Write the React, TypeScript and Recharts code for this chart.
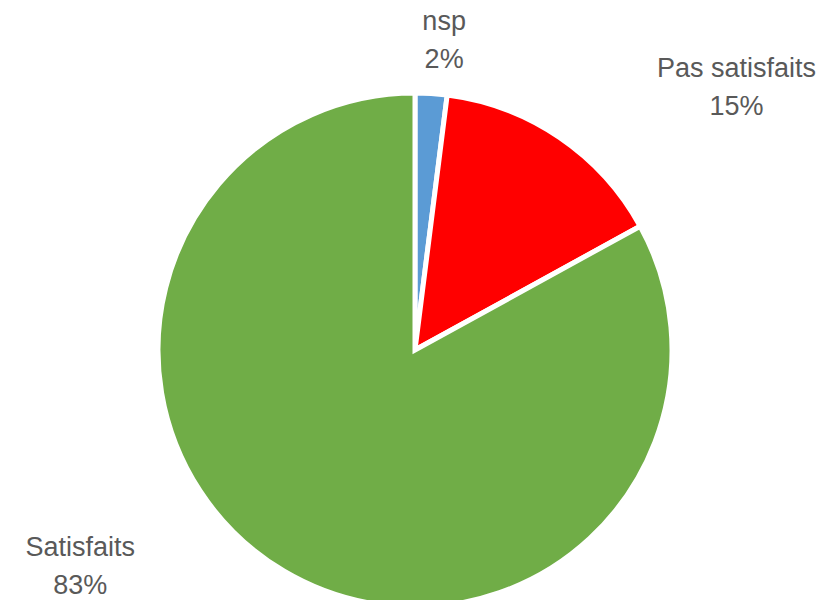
import { PieChart, Pie, Cell } from "recharts";

const categories = ["nsp", "Pas satisfaits", "Satisfaits"];
const shares = [2, 15, 83];
const sliceColors = ["#5B9BD5", "#FF0000", "#70AD47"];

// where each label sits relative to its slice's outer edge (Excel "best fit" look)
const labelNudge: Record<string, { dx: number; dy: number }> = {
  nsp: { dx: 13, dy: -64 },
  "Pas satisfaits": { dx: 177, dy: -60 },
  Satisfaits: { dx: -204, dy: -15 },
};

const data = categories.map((name, i) => ({ name, value: shares[i] }));

const RAD = Math.PI / 180;

function renderLabel(props: any) {
  const { cx, cy, midAngle, outerRadius, payload, percent } = props;
  const name = payload.name as string;
  const nudge = labelNudge[name] ?? { dx: 0, dy: 0 };
  const x = cx + outerRadius * Math.cos(-midAngle * RAD) + nudge.dx;
  const y = cy + outerRadius * Math.sin(-midAngle * RAD) + nudge.dy;
  return (
    <text
      x={x}
      y={y}
      textAnchor="middle"
      fill="#595959"
      fontSize={27}
      fontFamily="'Liberation Sans', Arial, sans-serif"
    >
      <tspan x={x} y={y}>
        {name}
      </tspan>
      <tspan x={x} y={y + 38}>
        {`${Math.round(percent * 100)}%`}
      </tspan>
    </text>
  );
}

export default function App() {
  return (
    <div style={{ position: "absolute", left: 0, top: 0, width: 823, height: 600, background: "#fff" }}>
      <PieChart width={823} height={600} margin={{ top: 0, right: 0, bottom: 0, left: 0 }}>
        <Pie
          data={data}
          dataKey="value"
          nameKey="name"
          cx={415}
          cy={350}
          outerRadius={257}
          startAngle={90}
          endAngle={-270}
          stroke="#ffffff"
          strokeWidth={5}
          label={renderLabel}
          labelLine={false}
          isAnimationActive={false}
        >
          {data.map((d, i) => (
            <Cell key={d.name} fill={sliceColors[i]} />
          ))}
        </Pie>
      </PieChart>
    </div>
  );
}
